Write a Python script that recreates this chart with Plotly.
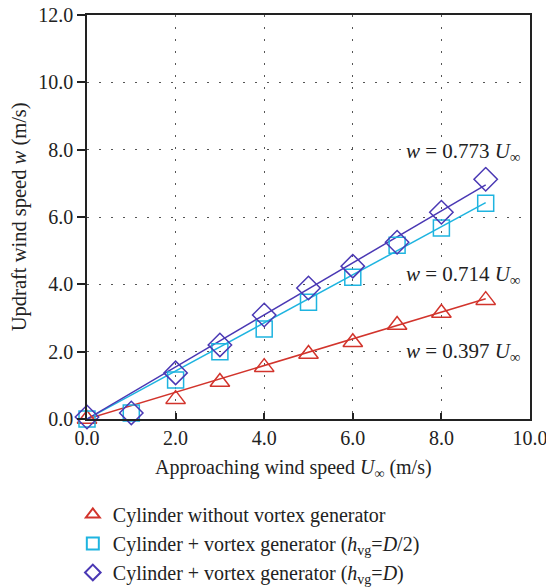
import plotly.graph_objects as go

# Data
u_inf = [0, 1, 2, 3, 4, 5, 6, 7, 8, 9]
w_no_vg = [0.0, -0.02, 0.59, 1.10, 1.54, 1.93, 2.28, 2.79, 3.15, 3.53]
w_vg_half = [0.0, 0.18, 1.16, 2.00, 2.67, 3.47, 4.21, 5.16, 5.67, 6.41]
w_vg_full = [0.06, 0.18, 1.37, 2.20, 3.09, 3.89, 4.54, 5.25, 6.14, 7.12]
slopes = [0.397, 0.714, 0.773]
fit_range = [0, 9]
names = [
    "Cylinder without vortex generator",
    "Cylinder + vortex generator (<i>h</i><sub>vg</sub>=<i>D</i>/2)",
    "Cylinder + vortex generator (<i>h</i><sub>vg</sub>=<i>D</i>)",
]
colors = ["#d2342c", "#1eb4e0", "#4a38b4"]
symbols = ["triangle-up-open", "square-open", "diamond-open"]
sizes = [17, 16, 18]
series = [w_no_vg, w_vg_half, w_vg_full]
x_ticks = [0, 2, 4, 6, 8, 10]
y_ticks = [0, 2, 4, 6, 8, 10, 12]
label_y = [1.99, 4.28, 7.93]

FONT = "Liberation Serif"
TXT = "#222"

fig = go.Figure()

for s, c in zip(slopes, colors):
    fig.add_trace(go.Scatter(
        x=fit_range, y=[s * v for v in fit_range], mode="lines",
        line=dict(color=c, width=1.5), showlegend=False, hoverinfo="skip",
        cliponaxis=False,
    ))

for ys, n, c, sym, sz in zip(series, names, colors, symbols, sizes):
    fig.add_trace(go.Scatter(
        x=u_inf, y=ys, mode="markers", name=n,
        marker=dict(symbol=sym, size=sz, color=c, line=dict(color=c, width=1.5)),
        cliponaxis=False,
    ))

for s, ly in zip(slopes, label_y):
    fig.add_annotation(
        x=9.84, y=ly, xref="x", yref="y", xanchor="right", yanchor="middle",
        text=f"<i>w</i> = {s:.3f} <i>U</i><sub>∞</sub>", showarrow=False,
        font=dict(family=FONT, size=21, color=TXT), bgcolor="white",
    )

# axis titles as annotations for precise placement
fig.add_annotation(
    x=0.467, y=-0.123, xref="paper", yref="paper", xanchor="center", yanchor="middle",
    text="Approaching wind speed <i>U</i><sub>∞</sub> (m/s)", showarrow=False,
    font=dict(family=FONT, size=20, color=TXT),
)
fig.add_annotation(
    x=-0.153, y=0.5, xref="paper", yref="paper", xanchor="center", yanchor="middle",
    text="Updraft wind speed <i>w</i> (m/s)", showarrow=False, textangle=-90,
    font=dict(family=FONT, size=20.5, color=TXT),
)

axis_common = dict(
    showline=True, linecolor="#222", linewidth=1.5, mirror=True,
    showgrid=True, gridcolor="#555", griddash="2px,10px", gridwidth=1,
    zeroline=False, tickformat=".1f",
    tickfont=dict(family=FONT, size=20, color=TXT),
    tickcolor="#222", tickwidth=1.5, ticklabeloverflow="allow",
)

fig.update_xaxes(range=[0, 10], tickvals=x_ticks, ticks="inside", ticklen=6, **axis_common)
fig.update_yaxes(range=[0, 12], tickvals=y_ticks, ticks="outside", ticklen=8, **axis_common)

fig.update_layout(
    width=546, height=588,
    margin=dict(l=87, r=16, t=15, b=169, autoexpand=False),
    paper_bgcolor="white", plot_bgcolor="white",
    font=dict(family=FONT, size=20, color=TXT),
    legend=dict(
        x=-0.032, y=-0.188, xanchor="left", yanchor="top",
        font=dict(family=FONT, size=20, color=TXT),
        itemsizing="constant", tracegroupgap=0,
        bgcolor="rgba(0,0,0,0)",
    ),
)

fig.write_html("out.html")
